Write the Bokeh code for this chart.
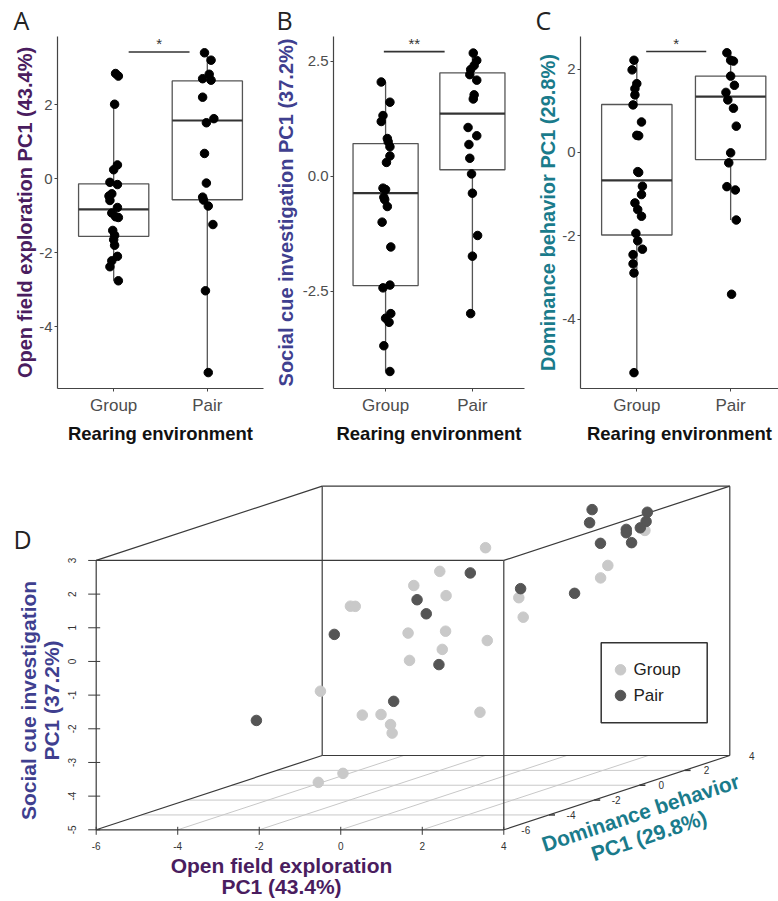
import math
from bokeh.plotting import figure
from bokeh.layouts import column, row
from bokeh.models import Range1d, FixedTicker, PrintfTickFormatter
from bokeh.embed import file_html
from bokeh.resources import INLINE
from bokeh.core.properties import value

# ---------------- data ----------------
categories = ["Group", "Pair"]

# Panel A: open field exploration PC1
of_group = [2.84, 2.77, 2.01, 0.37, 0.24, -0.10, -0.16, -0.41, -0.47, -0.59, -0.78,
            -0.93, -1.03, -1.05, -1.40, -1.53, -1.65, -1.80, -2.10, -2.22, -2.38, -2.76]
of_group_jit = [0.02, 0.05, 0.01, 0.04, 0.0, -0.04, 0.04, -0.02, -0.05, -0.04, 0.04,
                -0.02, 0.02, 0.05, -0.01, 0.01, 0.0, 0.01, 0.04, -0.02, -0.04, 0.05]
of_pair = [3.40, 3.20, 2.82, 2.70, 2.66, 2.20, 1.62, 1.51, 0.68, -0.12, -0.50, -0.58,
           -0.74, -1.24, -3.03, -5.24]
of_pair_jit = [-0.03, 0.04, 0.02, -0.05, 0.04, -0.05, 0.07, -0.01, -0.03, -0.01, -0.05,
               -0.04, 0.01, 0.06, -0.02, 0.01]
# box stats: [whisker low, Q1, median, Q3, whisker high]
of_box_group = [-2.76, -1.56, -0.83, -0.14, 1.98]
of_box_pair = [-5.24, -0.57, 1.57, 2.64, 3.40]

# Panel B: social cue investigation PC1
sc_group = [2.05, 1.61, 1.32, 1.19, 0.82, 0.75, 0.64, 0.44, 0.30, -0.26, -0.29, -0.46,
            -0.51, -0.66, -1.00, -1.54, -2.37, -2.43, -2.99, -3.09, -3.18, -3.69, -4.25]
sc_group_jit = [-0.05, 0.05, -0.03, -0.05, 0.02, 0.03, 0.05, 0.05, 0.01, -0.03, 0.0,
                -0.02, -0.01, 0.02, -0.04, 0.06, 0.05, -0.03, 0.06, 0.0, 0.04, -0.02, 0.05]
sc_pair = [2.68, 2.52, 2.41, 2.32, 2.21, 2.09, 1.77, 1.68, 1.06, 0.88, 0.69, 0.39, 0.05,
           -0.37, -1.29, -1.74, -2.99]
sc_pair_jit = [0.01, 0.05, 0.02, -0.02, -0.03, 0.05, 0.02, 0.01, -0.05, 0.05, -0.04,
               -0.03, -0.01, 0.0, 0.06, 0.0, -0.02]
sc_box_group = [-4.25, -2.38, -0.37, 0.71, 2.05]
sc_box_pair = [-2.99, 0.14, 1.36, 2.25, 2.68]

# Panel C: dominance behavior PC1
dom_group = [2.21, 1.98, 1.65, 1.53, 1.38, 1.14, 0.73, 0.41, 0.40, -0.46, -0.48, -0.81,
             -1.01, -1.21, -1.37, -1.53, -1.94, -2.12, -2.32, -2.45, -2.67, -2.89, -5.28]
dom_group_jit = [-0.03, -0.05, 0.0, -0.02, -0.02, -0.04, 0.05, 0.0, 0.02, 0.01, 0.02,
                 0.06, 0.05, -0.02, 0.01, 0.05, -0.01, 0.01, 0.06, -0.04, -0.04, -0.03, -0.03]
dom_pair = [2.39, 2.21, 2.19, 1.83, 1.61, 1.44, 1.26, 1.06, 0.63, -0.01, -0.25, -0.82,
            -0.90, -1.62, -3.40]
dom_pair_jit = [-0.04, 0.0, 0.03, 0.0, 0.04, -0.05, -0.03, 0.03, 0.06, 0.0, -0.02, -0.04,
                0.05, 0.06, 0.01]
dom_box_group = [-5.28, -1.98, -0.67, 1.15, 2.21]
dom_box_pair = [-1.62, -0.17, 1.34, 1.83, 2.39]

# significance brackets: [x start, x end, y], label
sig_a = ([1.16, 1.81, 3.42], "*")
sig_b = ([0.98, 1.68, 2.71], "**")
sig_c = ([1.10, 1.74, 2.42], "*")

# Panel D: 3D scatter (open field PC1, social cue PC1, dominance PC1)
g3_of = [-0.69, -1.53, -1.94, -0.97, -2.33, -2.30, -1.42, -1.52, -0.83, -0.57, -1.08, -2.65,
         -1.95, -1.89, -1.03, -0.78, -0.76, 2.40, 2.63, 2.00, 2.20, 2.91, -1.67, -0.95]
g3_sc = [1.69, 1.10, 0.77, 0.54, 0.62, 0.58, -0.38, -0.73, -1.14, -0.86, -1.07, -1.74,
         -2.58, -2.72, -2.77, -2.94, -3.17, 1.11, 0.58, 1.04, 0.82, 2.08, -4.01, -3.75]
g3_dom = [1.65, 1.14, 0.73, 0.41, -1.37, -1.21, -0.46, 1.38, 1.98, -0.48, -1.01, -2.12,
          -1.53, -0.81, -1.94, -2.32, 1.53, -2.45, -2.67, 2.21, 1.53, 2.21, -2.89, -5.28]
p3_of = [1.62, 1.78, 2.87, 2.95, 3.13, 2.88, 2.98, 3.22, 2.03, 2.06, -0.14, -0.01, -1.00,
         -0.73, -0.02, -1.60, -2.86, -5.23]
p3_sc = [2.70, 2.40, 2.58, 2.35, 2.29, 2.28, 2.22, 1.97, 1.78, 0.56, 0.35, 1.36, 0.69,
         0.29, -1.06, 0.23, -2.84, -3.01]
p3_dom = [2.20, 1.80, 2.39, 2.19, 1.61, 1.44, 1.26, 1.06, 1.83, 0.63, 2.21, -0.25, -0.82,
          -0.90, -1.62, -3.40, 1.50, -0.30]

x3_ticks = [-6, -4, -2, 0, 2, 4]
y3_ticks = [-5, -4, -3, -2, -1, 0, 1, 2, 3]
z3_ticks = [-6, -4, -2, 0, 2, 4]

# ---------------- styling ----------------
FONT = "Liberation Sans"
PURPLE = "#4a1d5f"
BLUE = "#3f3f8f"
TEAL = "#1a7b8b"
TOP_H = 446
FRAME_BOTTOM = 390
BOT_H = 901 - TOP_H


def box_panel(gv, gj, pv, pj, gbox, pbox, yr, xr_end, yticks, ylabel, ycolor,
              width, bl, br, sig, letter, letter_x, fmt, lab_standoff):
    p = figure(width=width, height=TOP_H, x_range=Range1d(0.4, xr_end),
               y_range=Range1d(*yr), output_backend="svg", toolbar_location=None,
               min_border_left=bl, min_border_right=br, min_border_top=33,
               min_border_bottom=TOP_H - FRAME_BOTTOM)
    p.outline_line_color = None
    p.grid.visible = False
    p.background_fill_color = "white"
    p.border_fill_color = "white"

    # panel letter as title
    p.title.text = letter
    p.title.text_font = "Open Sans"
    p.title.text_font_style = "normal"
    p.title.text_font_size = "25px"
    p.title.text_color = "#222222"
    p.title.align = "left"
    p.title.offset = letter_x - bl
    p.title.standoff = 0

    for ax in (p.xaxis[0], p.yaxis[0]):
        ax.axis_line_color = "#444444"
        ax.axis_line_width = 1.2
        ax.major_tick_line_color = "#444444"
        ax.major_tick_out = 3
        ax.major_tick_in = 0
        ax.minor_tick_line_color = None
        ax.major_label_text_font = FONT
        ax.major_label_text_color = "#4d4d4d"
        ax.axis_label_text_font = FONT
        ax.axis_label_text_font_style = "bold"

    p.xaxis.ticker = FixedTicker(ticks=[1, 2])
    p.xaxis.major_label_overrides = {1: categories[0], 2: categories[1]}
    p.xaxis.major_label_text_font_size = "17px"
    p.xaxis.major_label_standoff = 4
    p.xaxis.axis_label = "Rearing environment"
    p.xaxis.axis_label_text_color = "#111111"
    p.xaxis.axis_label_text_font_size = "18.5px"
    p.xaxis.axis_label_standoff = 5

    p.yaxis.ticker = FixedTicker(ticks=yticks)
    p.yaxis.formatter = PrintfTickFormatter(format=fmt)
    p.yaxis.major_label_text_font_size = "15px"
    p.yaxis.major_label_standoff = 2
    p.yaxis.axis_label = ylabel
    p.yaxis.axis_label_text_color = ycolor
    p.yaxis.axis_label_text_font_size = "20px"
    p.yaxis.axis_label_standoff = lab_standoff

    hw = 0.375
    for c, st in ((1, gbox), (2, pbox)):
        lo, q1, med, q3, hi = st
        p.segment(x0=[c, c], y0=[q3, q1], x1=[c, c], y1=[hi, lo],
                  line_color="#555555", line_width=1.3)
        p.quad(left=[c - hw], right=[c + hw], bottom=[q1], top=[q3],
               fill_color="white", line_color="#555555", line_width=1.3)
        p.segment(x0=[c - hw], y0=[med], x1=[c + hw], y1=[med],
                  line_color="#333333", line_width=2.2)

    p.scatter(x=[1 + j for j in gj], y=gv, size=8.5, color="black")
    p.scatter(x=[2 + j for j in pj], y=pv, size=8.5, color="black")

    (sx0, sx1, sy), stxt = sig
    p.segment(x0=[sx0], y0=[sy], x1=[sx1], y1=[sy], line_color="#333333", line_width=1.6)
    p.text(x=[(sx0 + sx1) / 2], y=[sy], text=[stxt], text_align="center",
           text_baseline="bottom", text_font=value(FONT), text_font_size="15px",
           text_color="#333333")
    return p


pA = box_panel(of_group, of_group_jit, of_pair, of_pair_jit, of_box_group, of_box_pair,
               (-5.67, 3.84), 2.6, [-4, -2, 0, 2], "Open field exploration PC1 (43.4%)",
               PURPLE, 270, 57, 7, sig_a, "A", 13, "%d", 0)
pB = box_panel(sc_group, sc_group_jit, sc_pair, sc_pair_jit, sc_box_group, sc_box_pair,
               (-4.62, 3.04), 2.6, [-2.5, 0, 2.5], "Social cue investigation PC1 (37.2%)",
               BLUE, 262, 63, 8, sig_b, "B", 6, "%.1f", 3)
pC = box_panel(dom_group, dom_group_jit, dom_pair, dom_pair_jit, dom_box_group, dom_box_pair,
               (-5.66, 2.78), 2.51, [-4, -2, 0, 2], "Dominance behavior PC1 (29.8%)",
               TEAL, 246, 48, 0, sig_c, "C", 3, "%d", 0)

# ---------------- 3D panel ----------------
XL = (-6, 4)
YL = (-5, 3)
ZL = (-6, 4)
OX, OY = 95.7, 901 - 829.3     # screen position of the (xmin, ymin, zmin) corner
SX, SY = 40.76, 33.67          # px per unit along x and y
ZX, ZY = 22.6, 7.43            # px per unit along z (oblique)


def proj(xs, ys, zs):
    px = [OX + SX * (x - XL[0]) + ZX * (z - ZL[0]) for x, z in zip(xs, zs)]
    py = [OY + SY * (y - YL[0]) + ZY * (z - ZL[0]) for y, z in zip(ys, zs)]
    return px, py


pD = figure(width=778, height=BOT_H, x_range=Range1d(0, 778), y_range=Range1d(0, BOT_H),
            output_backend="svg", toolbar_location=None, min_border=0)
pD.axis.visible = False
pD.grid.visible = False
pD.outline_line_color = None
pD.background_fill_color = "white"
pD.border_fill_color = "white"

# floor grid
gx0, gy0, gx1, gy1 = [], [], [], []
for z in z3_ticks[1:-1]:
    a = proj([XL[0]], [YL[0]], [z]); b = proj([XL[1]], [YL[0]], [z])
    gx0 += a[0]; gy0 += a[1]; gx1 += b[0]; gy1 += b[1]
for x in x3_ticks[1:-1]:
    a = proj([x], [YL[0]], [ZL[0]]); b = proj([x], [YL[0]], [ZL[1]])
    gx0 += a[0]; gy0 += a[1]; gx1 += b[0]; gy1 += b[1]
pD.segment(x0=gx0, y0=gy0, x1=gx1, y1=gy1, line_color="#c8c8c8", line_width=1)

# cube edges
corners = [(x, y, z) for x in XL for y in YL for z in ZL]
ex0, ey0, ex1, ey1 = [], [], [], []
for i, c1 in enumerate(corners):
    for c2 in corners[i + 1:]:
        if sum(1 for a, b in zip(c1, c2) if a != b) == 1:
            a = proj([c1[0]], [c1[1]], [c1[2]]); b = proj([c2[0]], [c2[1]], [c2[2]])
            ex0 += a[0]; ey0 += a[1]; ex1 += b[0]; ey1 += b[1]
pD.segment(x0=ex0, y0=ey0, x1=ex1, y1=ey1, line_color="#3a3a3a", line_width=1.2)

# x axis ticks & labels
tx, ty = proj(x3_ticks, [YL[0]] * len(x3_ticks), [ZL[0]] * len(x3_ticks))
pD.segment(x0=tx, y0=[v + 3 for v in ty], x1=tx, y1=[v - 5 for v in ty],
           line_color="#3a3a3a", line_width=1)
pD.text(x=tx, y=[v - 16 for v in ty], text=[str(t) for t in x3_ticks], text_align="center",
        text_baseline="middle", text_font=value(FONT), text_font_size="10px",
        text_color="#333333")

# y axis ticks & labels
tx, ty = proj([XL[0]] * len(y3_ticks), y3_ticks, [ZL[0]] * len(y3_ticks))
pD.segment(x0=[v - 8 for v in tx], y0=ty, x1=[v + 4 for v in tx], y1=ty,
           line_color="#3a3a3a", line_width=1)
pD.text(x=[v - 24 for v in tx], y=ty, text=[str(t) for t in y3_ticks], angle=math.pi / 2,
        text_align="center", text_baseline="middle", text_font=value(FONT),
        text_font_size="10px", text_color="#333333")

# z axis ticks & labels
tx, ty = proj([XL[1]] * len(z3_ticks), [YL[0]] * len(z3_ticks), z3_ticks)
pD.segment(x0=tx[1:-1], y0=ty[1:-1], x1=[v + 6 for v in tx[1:-1]], y1=ty[1:-1],
           line_color="#3a3a3a", line_width=1.5)
pD.text(x=[v + 22 for v in tx], y=ty, text=[str(t) for t in z3_ticks], text_align="center",
        text_baseline="middle", text_font=value(FONT), text_font_size="10px",
        text_color="#333333")

# points
gx, gy = proj(g3_of, g3_sc, g3_dom)
pD.scatter(x=gx, y=gy, size=10.5, color="#c9c9c9")
px_, py_ = proj(p3_of, p3_sc, p3_dom)
pD.scatter(x=px_, y=py_, size=10.5, color="#555555")

# axis titles
pD.text(x=[281, 281], y=[901 - 865, 901 - 886],
        text=["Open field exploration", "PC1 (43.4%)"], text_align="center",
        text_baseline="middle", text_font=value(FONT), text_font_style="bold",
        text_font_size="21px", text_color=PURPLE)
pD.text(x=[28, 51], y=[901 - 700, 901 - 700],
        text=["Social cue investigation", "PC1 (37.2%)"], angle=math.pi / 2,
        text_align="center", text_baseline="middle", text_font=value(FONT),
        text_font_style="bold", text_font_size="21px", text_color=BLUE)
zang = math.atan2(ZY, ZX)
pD.text(x=[640, 648.5], y=[901 - 812, 901 - 835],
        text=["Dominance behavior", "PC1 (29.8%)"], angle=zang,
        text_align="center", text_baseline="middle", text_font=value(FONT),
        text_font_style="bold", text_font_size="21px", text_color=TEAL)

# legend
pD.rect(x=[653.7], y=[901 - 682.3], width=106, height=80, fill_color="white",
        line_color="#333333", line_width=1.5)
pD.scatter(x=[620, 620], y=[901 - 669.3, 901 - 695], size=10.5,
           color=["#c9c9c9", "#555555"])
pD.text(x=[633, 633], y=[901 - 669.3, 901 - 695], text=categories, text_align="left",
        text_baseline="middle", text_font=value(FONT), text_font_size="17px",
        text_color="#222222")

# panel letter
pD.text(x=[13], y=[901 - 538], text=["D"], text_align="left", text_baseline="alphabetic",
        text_font=value("Open Sans"), text_font_size="25px", text_color="#222222")

layout = column(row(pA, pB, pC), pD)
open("out.html", "w").write(file_html(layout, INLINE))
